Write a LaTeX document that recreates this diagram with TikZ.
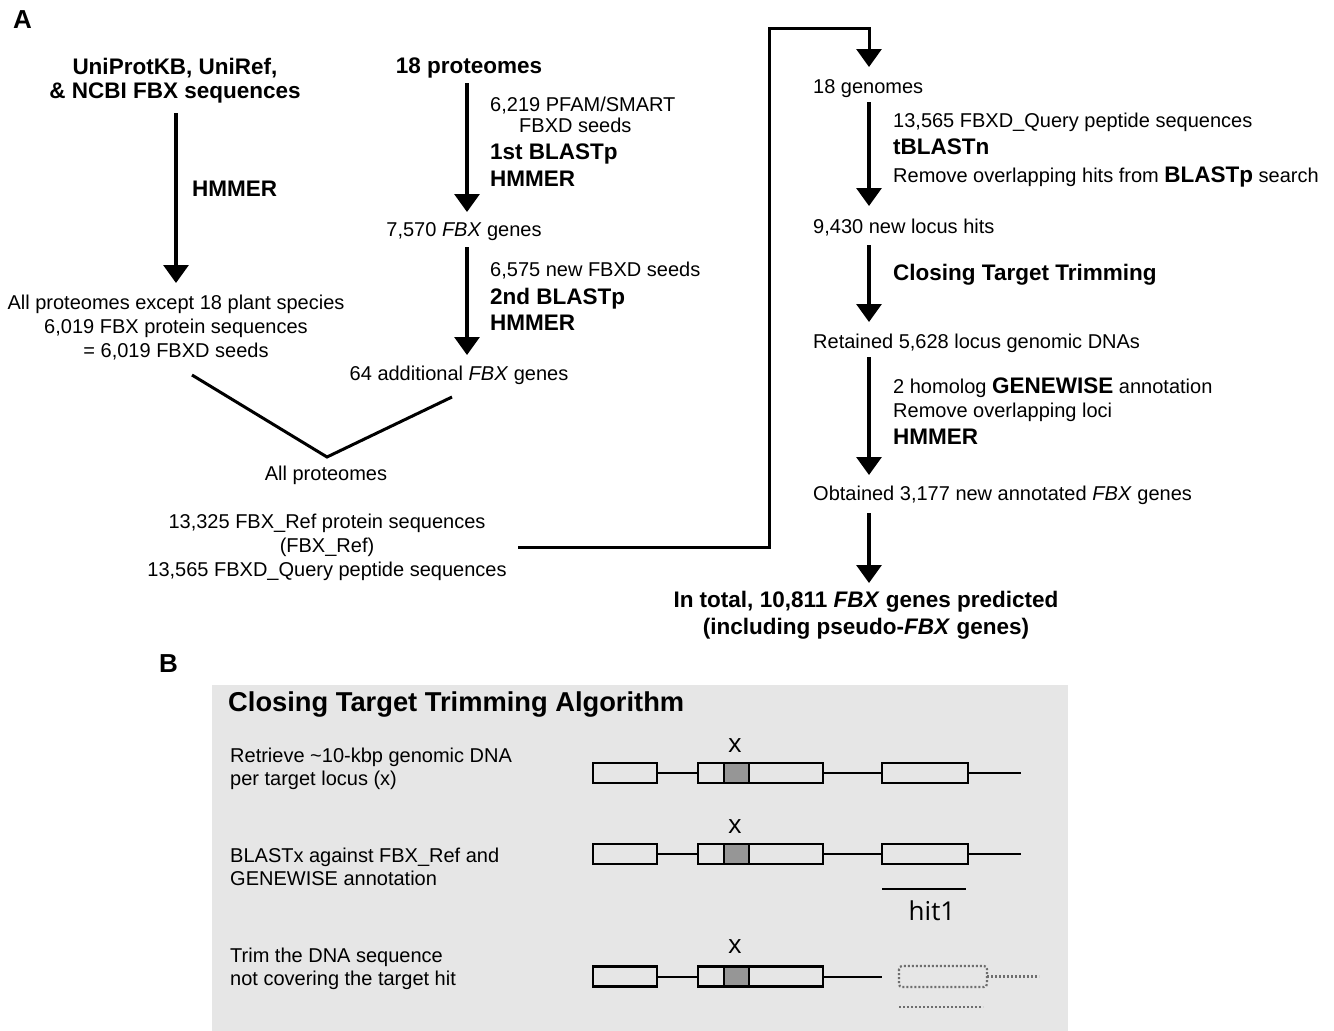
\documentclass[tikz,border=0pt]{standalone}
\usepackage{fontspec}
\setmainfont{Liberation Sans}
\newfontfamily\osans{Open Sans}
\usetikzlibrary{arrows.meta,calc}
\definecolor{boxgray}{RGB}{230,230,230}
\definecolor{exongray}{RGB}{150,150,150}
\definecolor{dotgray}{RGB}{110,110,110}
\newcommand\rg{\fontsize{20}{24}\selectfont}
\newcommand\bd{\fontsize{22.5}{27}\selectfont\bfseries}
\newcommand\ttl{\fontsize{27.3}{32}\selectfont\bfseries}
\newcommand\lab{\fontsize{26}{30}\selectfont\bfseries}
\newcommand\glab{\fontsize{26}{30}\selectfont\osans}
\begin{document}
\begin{tikzpicture}[x=1pt,y=-1pt,
  t/.style={inner sep=0pt, anchor=base, font=\rg},
  tl/.style={inner sep=0pt, anchor=base west, font=\rg},
  tb/.style={inner sep=0pt, anchor=base, font=\bd},
  tbl/.style={inner sep=0pt, anchor=base west, font=\bd},
  arr/.style={line width=3.2pt, -{Triangle[width=25pt,length=18pt]}},
  conn/.style={line width=3pt},
  exon/.style={line width=2.4pt},
  intron/.style={line width=2pt},
  dots/.style={line width=2.2pt, dotgray, dash pattern=on 2pt off 2pt},
  gl/.style={inner sep=0pt, anchor=base, font=\glab}
]
\useasboundingbox (0,0) rectangle (1334,1031);

% column coordinates
\coordinate (colL) at (176,0);
\coordinate (colM) at (467,0);
\coordinate (colR) at (869,0);

% panel labels
\node[inner sep=0pt, anchor=base west, font=\lab] (labA) at (13,28) {A};
\node[inner sep=0pt, anchor=base west, font=\lab] (labB) at (159,672) {B};

% left column
\node[tb] (uni1) at (175,74) {UniProtKB, UniRef,};
\node[tb] (uni2) at (175,98) {\& NCBI FBX sequences};
\node[tbl] (hmm1) at (192,196) {HMMER};
\node[t] (allx1) at (176,309) {All proteomes except 18 plant species};
\node[t] (allx2) at (176,333) {6,019 FBX protein sequences};
\node[t] (allx3) at (176,357) {= 6,019 FBXD seeds};
\draw[arr] ($(uni2.base -| colL)+(0,15)$) -- ($(allx1.base -| colL)+(0,-26)$);

% middle column
\node[tb] (prot) at (469,73) {18 proteomes};
\node[tl] (pf1) at (490,111) {6,219 PFAM/SMART};
\node[tl] (pf2) at (519,132) {FBXD seeds};
\node[tbl] (bl1) at (490,159) {1st BLASTp};
\node[tbl] (hm2) at (490,186) {HMMER};
\node[t] (g7570) at (464,236) {7,570 \textit{FBX} genes};
\node[tl] (nf1) at (490,276) {6,575 new FBXD seeds};
\node[tbl] (bl2) at (490,304) {2nd BLASTp};
\node[tbl] (hm3) at (490,330) {HMMER};
\node[t] (g64) at (459,380) {64 additional \textit{FBX} genes};
\draw[arr] ($(prot.base -| colM)+(0,10)$) -- ($(g7570.base -| colM)+(0,-24)$);
\draw[arr] ($(g7570.base -| colM)+(0,11)$) -- ($(g64.base -| colM)+(0,-25)$);

% merge
\coordinate (vL) at (192,375);
\coordinate (vM) at (327,457);
\coordinate (vR) at (452,397);
\draw[conn, line join=miter] (vL) -- (vM) -- (vR);
\node[t] (allp) at (326,480) {All proteomes};
\node[t] (ref1) at (327,528) {13,325 FBX\_Ref protein sequences};
\node[t] (ref2) at (327,552) {(FBX\_Ref)};
\node[t] (ref3) at (327,576) {13,565 FBXD\_Query peptide sequences};

% right column
\node[tl] (gen1) at (813,93) {18 genomes};
\node[tl] (q1) at (893,127) {13,565 FBXD\_Query peptide sequences};
\node[tbl] (tbn) at (893,154) {tBLASTn};
\node[tl] (rm1) at (893,182) {Remove overlapping hits from {\bd BLASTp} search};
\node[tl] (hits) at (813,233) {9,430 new locus hits};
\node[tbl] (ctt) at (893,280) {Closing Target Trimming};
\node[tl] (ret) at (813,348) {Retained 5,628 locus genomic DNAs};
\node[tl] (gw) at (893,393) {2 homolog {\bd GENEWISE} annotation};
\node[tl] (rl) at (893,417) {Remove overlapping loci};
\node[tbl] (hm4) at (893,444) {HMMER};
\node[tl] (obt) at (813,500) {Obtained 3,177 new annotated \textit{FBX} genes};
\node[tb] (tot1) at (866,607) {In total, 10,811 \textit{FBX} genes predicted};
\node[tb] (tot2) at (866,634) {(including pseudo-\textit{FBX} genes)};

% connector from left part to right column
\coordinate (c0) at (518,547);
\coordinate (c1) at (769,28);
\draw[conn, -{Triangle[width=25pt,length=18pt]}, line join=miter]
  (c0) -| (c1) -| ($(gen1.base -| colR)+(0,-26)$);
\draw[arr] ($(gen1.base -| colR)+(0,9)$) -- ($(hits.base -| colR)+(0,-27)$);
\draw[arr] ($(hits.base -| colR)+(0,12)$) -- ($(ret.base -| colR)+(0,-26)$);
\draw[arr] ($(ret.base -| colR)+(0,9)$) -- ($(obt.base -| colR)+(0,-25)$);
\draw[arr] ($(obt.base -| colR)+(0,13)$) -- ($(tot1.base -| colR)+(0,-24)$);

% panel B
\fill[boxgray] (212,685) rectangle (1068,1031);
\node[inner sep=0pt, anchor=base west, font=\ttl] (ttl) at (228,711) {Closing Target Trimming Algorithm};
\node[tl] (b1a) at (230,762) {Retrieve \textasciitilde10-kbp genomic DNA};
\node[tl] (b1b) at (230,785) {per target locus (x)};
\node[tl] (b2a) at (230,862) {BLASTx against FBX\_Ref and};
\node[tl] (b2b) at (230,885) {GENEWISE annotation};
\node[tl] (b3a) at (230,962) {Trim the DNA sequence};
\node[tl] (b3b) at (230,985) {not covering the target hit};

% gene rows
\foreach \c/\xb in {773/752, 854/833, 976.5/953}{
  \fill[exongray] (724,\c-10) rectangle (749,\c+10);
  \draw[exon] (593,\c-10) rectangle (657,\c+10);
  \draw[exon] (698,\c-10) rectangle (823,\c+10);
  \draw[exon] (724,\c-10) -- (724,\c+10) (749,\c-10) -- (749,\c+10);
  \draw[intron] (657,\c) -- (698,\c);
  \draw[intron] (823,\c) -- (882,\c);
  \node[gl] at (735,\xb) {x};
}
\foreach \c in {773, 854}{
  \draw[exon] (882,\c-10) rectangle (968,\c+10);
  \draw[intron] (968,\c) -- (1021,\c);
}
\draw[line width=2.6pt] (882,889) -- (966,889);
\node[gl] (hit) at (932,920) {hit1};
\draw[dots, rounded corners=3pt] (899,966) rectangle (987,987);
\draw[dots] (987,976.5) -- (1039,976.5);
\draw[dots] (899,1007) -- (983,1007);
\end{tikzpicture}
\end{document}
